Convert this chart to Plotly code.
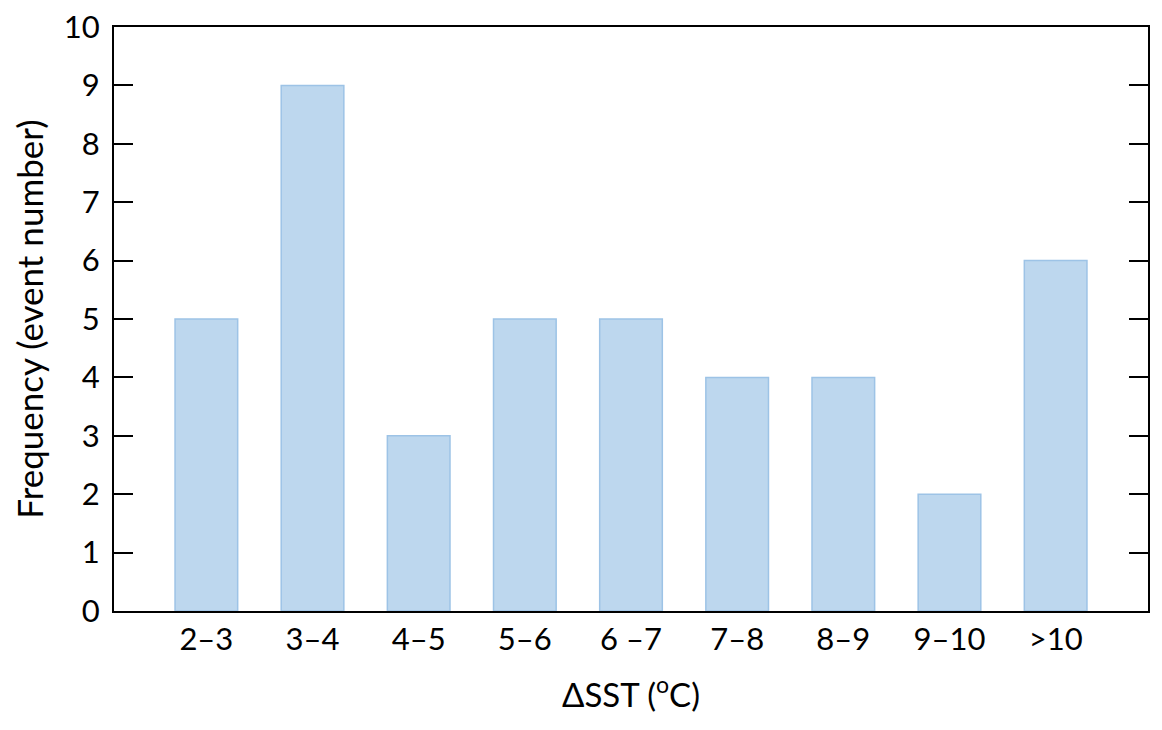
import plotly.graph_objects as go

categories = ["2–3", "3–4", "4–5", "5–6", "6 –7", "7–8", "8–9", "9–10", ">10"]
frequency = [5, 9, 3, 5, 5, 4, 4, 2, 6]
y_ticks = [0, 1, 2, 3, 4, 5, 6, 7, 8, 9, 10]

FONT = "Lato, Carlito, 'Open Sans', sans-serif"

fig = go.Figure(
    go.Bar(
        x=categories,
        y=frequency,
        width=0.59,
        marker=dict(color="#BDD7EE", line=dict(color="#9DC3E6", width=1.5)),
    )
)

fig.update_layout(
    width=1162,
    height=730,
    margin=dict(l=106, r=22, t=19, b=127),
    paper_bgcolor="white",
    plot_bgcolor="white",
    showlegend=False,
    font=dict(family=FONT, size=31, color="black"),
)

fig.update_xaxes(
    range=[-0.87, 8.87],
    automargin=False,
    showline=True,
    linecolor="black",
    linewidth=2,
    mirror=True,
    ticks="",
    showgrid=False,
    tickfont=dict(size=31),
    title=dict(text="ΔSST (<sup>o</sup>C)", font=dict(size=33), standoff=28),
)

fig.update_yaxes(
    range=[0, 10],
    automargin=False,
    tickvals=y_ticks,
    ticklabeloverflow="allow",
    showline=True,
    linecolor="black",
    linewidth=2,
    mirror="ticks",
    ticks="inside",
    ticklen=19,
    tickwidth=2,
    tickcolor="black",
    showgrid=False,
    zeroline=False,
    tickfont=dict(size=31),
    ticklabelstandoff=6,
    title=dict(text="Frequency (event number)", font=dict(size=35), standoff=12),
)

fig.write_html("out.html")
